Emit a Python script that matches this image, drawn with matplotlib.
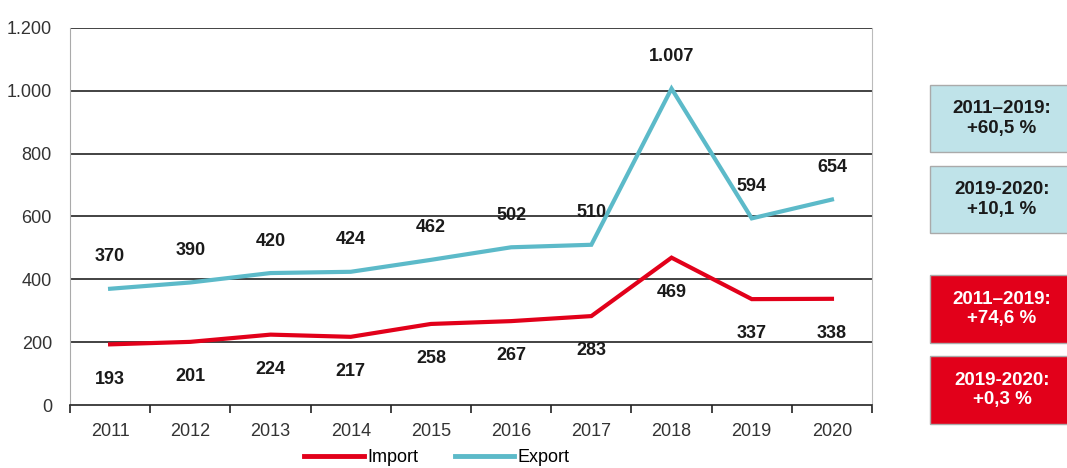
import matplotlib
matplotlib.use("Agg")
import matplotlib.pyplot as plt
from matplotlib.patches import Rectangle
from matplotlib.lines import Line2D

plt.rcParams['font.family'] = ['Liberation Sans', 'DejaVu Sans']

# Daten
years = ['2011', '2012', '2013', '2014', '2015', '2016', '2017', '2018', '2019', '2020']
export_vals = [370, 390, 420, 424, 462, 502, 510, 1007, 594, 654]
import_vals = [193, 201, 224, 217, 258, 267, 283, 469, 337, 338]
y_ticks = [0, 200, 400, 600, 800, 1000, 1200]
y_ticklabels = ['0', '200', '400', '600', '800', '1.000', '1.200']
export_boxes = ['2011\u20132019:\n+60,5 %', '2019-2020:\n+10,1 %']
import_boxes = ['2011\u20132019:\n+74,6 %', '2019-2020:\n+0,3 %']

c_export = '#5cbac9'
c_import = '#e2001a'

def fmt(v):
    return f"{v:,}".replace(',', '.')

fig = plt.figure(figsize=(10.67, 4.68), dpi=100)
ax = fig.add_axes([0.0656, 0.1346, 0.7517, 0.8056])

x = range(len(years))
ax.plot(x, import_vals, color=c_import, lw=3, solid_joinstyle='miter')
ax.plot(x, export_vals, color=c_export, lw=3, solid_joinstyle='miter')

for i, v in enumerate(export_vals):
    ax.annotate(fmt(v), (i, v), xytext=(0, 23), textcoords='offset points',
                ha='center', va='center', fontsize=13, fontweight='bold', color='#1a1a1a')
for i, v in enumerate(import_vals):
    ax.annotate(fmt(v), (i, v), xytext=(0, -25), textcoords='offset points',
                ha='center', va='center', fontsize=13, fontweight='bold', color='#1a1a1a')

ax.set_xlim(-0.5, len(years) - 0.5)
ax.set_ylim(0, 1200)
ax.set_yticks(y_ticks)
ax.set_yticklabels(y_ticklabels)
ax.set_xticks(list(x))
ax.set_xticklabels(years)
ax.set_xticks([i + 0.5 for i in range(-1, len(years))], minor=True)
ax.tick_params(axis='x', which='major', length=0, pad=13, labelsize=13, labelcolor='#333333')
ax.tick_params(axis='x', which='minor', length=6, width=1.2, color='#222222', direction='out')
ax.tick_params(axis='y', length=0, pad=13, labelsize=13, labelcolor='#333333')

for yv in y_ticks[1:]:
    ax.axhline(yv, color='#222222', lw=1.2, zorder=0)

ax.spines['top'].set_visible(False)
ax.spines['left'].set_color('#aaaaaa')
ax.spines['right'].set_color('#bbbbbb')
ax.spines['bottom'].set_color('#222222')
ax.spines['bottom'].set_linewidth(1.2)

# Kästen rechts
def box(y0, h, text, face, tcolor):
    fig.patches.append(Rectangle((930 / 1067, y0), 140 / 1067, h, transform=fig.transFigure,
                                 facecolor=face, edgecolor='#aaaaaa', lw=1))
    fig.text(1002 / 1067, y0 + h / 2, text, ha='center', va='center', fontsize=13.5,
             fontweight='bold', color=tcolor, linespacing=1.2)

box(1 - 152 / 468, 67 / 468, export_boxes[0], '#bfe3e9', '#1a1a1a')
box(1 - 233 / 468, 67 / 468, export_boxes[1], '#bfe3e9', '#1a1a1a')
box(1 - 343 / 468, 68 / 468, import_boxes[0], '#e2001a', 'white')
box(1 - 424 / 468, 68 / 468, import_boxes[1], '#e2001a', 'white')

handles = [Line2D([], [], color=c_import, lw=3.5), Line2D([], [], color=c_export, lw=3.5)]
fig.legend(handles, ['Import', 'Export'], loc='center', bbox_to_anchor=(437 / 1067, 1 - 458 / 468),
           ncol=2, frameon=False, fontsize=13, handlelength=3.3, handletextpad=0.2,
           columnspacing=2.0, borderpad=0)

fig.savefig('out.png', dpi=100)
